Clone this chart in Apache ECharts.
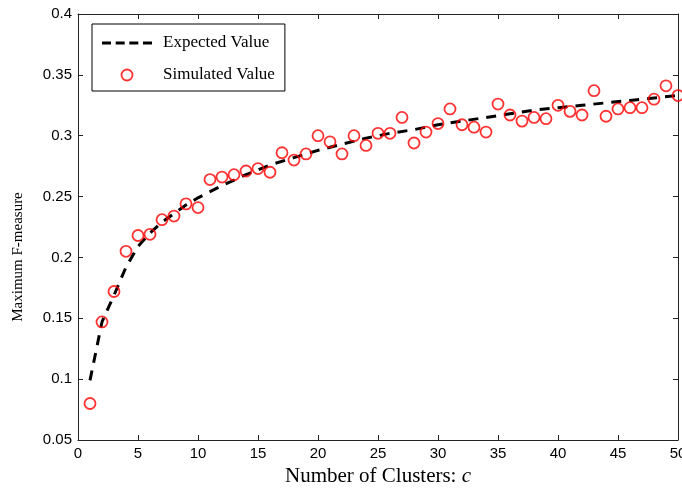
<!DOCTYPE html>
<html>
<head>
<meta charset="utf-8">
<script src="https://cdn.jsdelivr.net/npm/echarts@6/dist/echarts.min.js"></script>
<style>html,body{margin:0;padding:0;background:#fff}#chart{width:682px;height:488px}</style>
</head>
<body>
<div id="chart"></div>
<script>
// Simulated values: cluster count c = 1..50
const simClusters = [1,2,3,4,5,6,7,8,9,10,11,12,13,14,15,16,17,18,19,20,21,22,23,24,25,26,27,28,29,30,31,32,33,34,35,36,37,38,39,40,41,42,43,44,45,46,47,48,49,50];
const simValues = [0.080,0.147,0.172,0.205,0.218,0.219,0.231,0.234,0.244,0.241,
                   0.264,0.266,0.268,0.271,0.273,0.270,0.286,0.280,0.285,0.300,
                   0.295,0.285,0.300,0.292,0.302,0.302,0.315,0.294,0.303,0.310,
                   0.322,0.309,0.307,0.303,0.326,0.317,0.312,0.315,0.314,0.325,
                   0.320,0.317,0.337,0.316,0.322,0.323,0.323,0.330,0.341,0.333];
// Expected value curve, read at these cluster counts
const expClusters = [1,2,3,4,5,6,7,8,9,10,12,14,16,18,20,22,24,26,28,30,32,34,36,38,40,42,44,46,48,50];
const expValues = [0.099,0.147,0.169,0.192,0.209,0.220,0.229,0.236,0.243,0.249,
                   0.259,0.268,0.276,0.282,0.288,0.293,0.298,0.302,0.305,0.309,
                   0.312,0.315,0.318,0.321,0.323,0.325,0.327,0.329,0.331,0.333];
const xTicks = {min: 0, max: 50, interval: 5};
const yTicks = {min: 0.05, max: 0.4, interval: 0.05};

const chart = echarts.init(document.getElementById('chart'), null, {renderer: 'canvas'});
const axisColor = '#222';
const serif = '"Liberation Serif", "DejaVu Serif", serif';
const sans = '"Liberation Sans", Arial, sans-serif';

const baseX = {
  type: 'value', min: xTicks.min, max: xTicks.max, interval: xTicks.interval,
  axisLine: {show: true, onZero: false, lineStyle: {color: axisColor, width: 1}},
  axisTick: {show: true, inside: true, length: 5, lineStyle: {color: axisColor}},
  splitLine: {show: false}
};
const baseY = {
  type: 'value', min: yTicks.min, max: yTicks.max, interval: yTicks.interval,
  axisLine: {show: true, onZero: false, lineStyle: {color: axisColor, width: 1}},
  axisTick: {show: true, inside: true, length: 5, lineStyle: {color: axisColor}},
  splitLine: {show: false}
};

chart.setOption({
  animation: false,
  backgroundColor: '#fff',
  grid: {left: 78, right: 4, top: 14, bottom: 48, containLabel: false, outerBoundsMode: 'none'},
  xAxis: [
    Object.assign({}, baseX, {
      position: 'bottom',
      axisLabel: {color: '#000', fontSize: 15, fontFamily: sans, margin: 6},
      name: 'Number of Clusters: {i|c}',
      nameLocation: 'middle', nameGap: 19,
      nameTextStyle: {color: '#000', fontSize: 21, fontFamily: serif,
        rich: {i: {fontStyle: 'italic', fontSize: 21, fontFamily: serif, color: '#000'}}}
    }),
    Object.assign({}, baseX, {position: 'top', axisLabel: {show: false}})
  ],
  yAxis: [
    Object.assign({}, baseY, {
      position: 'left',
      axisLabel: {color: '#000', fontSize: 15, fontFamily: sans, margin: 6},
      name: 'Maximum F-measure',
      nameLocation: 'middle', nameGap: 52,
      nameTextStyle: {color: '#000', fontSize: 15, fontFamily: serif, padding: [0, 60, 0, 0]}
    }),
    Object.assign({}, baseY, {position: 'right', axisLabel: {show: false}})
  ],
  legend: {
    left: 92, top: 24,
    orient: 'vertical',
    backgroundColor: '#fff',
    borderColor: '#000', borderWidth: 1,
    padding: [9, 10, 6, 10],
    itemWidth: 50, itemHeight: 11, itemGap: 12,
    textStyle: {color: '#000', fontSize: 17, fontFamily: serif, lineHeight: 20, padding: [0, 0, 0, 6]},
    data: [
      {name: 'Expected Value',
       icon: 'path://M0,0h9v3h-9z M13.67,0h9v3h-9z M27.33,0h9v3h-9z M41,0h9v3h-9z',
       itemStyle: {color: '#000', borderWidth: 0}},
      {name: 'Simulated Value', icon: 'circle',
       itemStyle: {color: 'rgba(0,0,0,0)', borderColor: '#ff0000', borderWidth: 1.8}}
    ]
  },
  series: [
    {
      name: 'Expected Value', type: 'line',
      xAxisIndex: 0, yAxisIndex: 0,
      data: expClusters.map((c, i) => [c, expValues[i]]),
      showSymbol: false, symbol: 'none', smooth: false,
      lineStyle: {color: '#000', width: 3, type: [10, 8]},
      itemStyle: {color: '#000'},
      z: 2
    },
    {
      name: 'Simulated Value', type: 'scatter',
      xAxisIndex: 0, yAxisIndex: 0,
      data: simClusters.map((c, i) => [c, simValues[i]]),
      symbol: 'circle', symbolSize: 11,
      itemStyle: {color: 'rgba(0,0,0,0)', borderColor: '#ff0000', borderWidth: 1.8},
      z: 3
    }
  ]
});
</script>
</body>
</html>
